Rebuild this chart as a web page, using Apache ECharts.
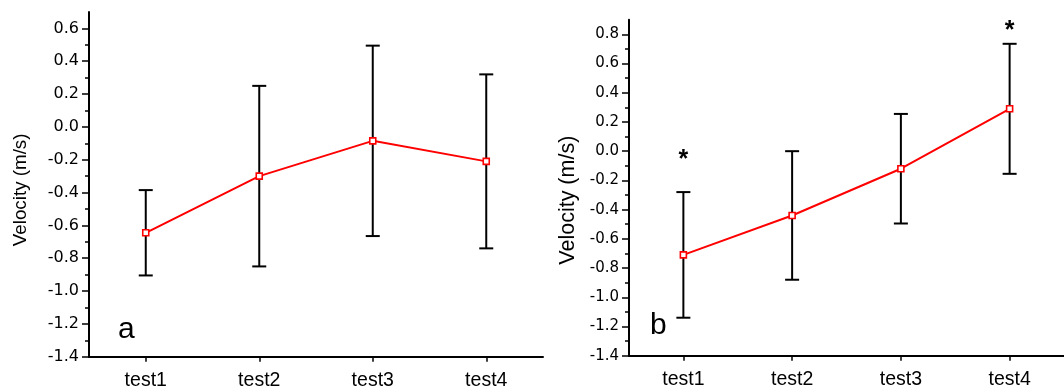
<!DOCTYPE html>
<html>
<head>
<meta charset="utf-8">
<script src="https://cdn.jsdelivr.net/npm/echarts@6/dist/echarts.min.js"></script>
<style>
  html, body { margin: 0; padding: 0; background: #fff; }
  #chart { width: 1064px; height: 392px; }
</style>
</head>
<body>
<div id="chart"></div>
<script>
// Test conditions along the x axis
const categories = ['test1', 'test2', 'test3', 'test4'];

// Panel a: mean velocity and +/- error
const meanA = [-0.645, -0.30, -0.085, -0.21];
const errA  = [0.26, 0.55, 0.58, 0.53];

// Panel b: mean velocity and +/- error
const meanB = [-0.71, -0.44, -0.12, 0.29];
const errB  = [0.43, 0.44, 0.375, 0.445];

// Significance marks for panel b and the velocity they sit at
const starB    = ['*', '', '', '*'];
const starPosB = [-0.06, null, null, 0.82];

// Tick values
const majorTicksA = [-1.4, -1.2, -1.0, -0.8, -0.6, -0.4, -0.2, 0.0, 0.2, 0.4, 0.6];
const minorTicksA = [-1.3, -1.1, -0.9, -0.7, -0.5, -0.3, -0.1, 0.1, 0.3, 0.5];
const majorTicksB = [-1.4, -1.2, -1.0, -0.8, -0.6, -0.4, -0.2, 0.0, 0.2, 0.4, 0.6, 0.8];
const minorTicksB = [-1.3, -1.1, -0.9, -0.7, -0.5, -0.3, -0.1, 0.1, 0.3, 0.5, 0.7];

const BLACK = '#000';
const RED = '#ff0000';
const SANS = '"Liberation Sans", Arial, sans-serif';

function xAxisFor(gridIndex) {
  return {
    type: 'category',
    gridIndex,
    data: categories,
    boundaryGap: true,
    axisLine: { show: true, onZero: false, lineStyle: { color: BLACK, width: 2 } },
    axisTick: { show: true, alignWithLabel: true, length: 5, lineStyle: { color: BLACK, width: 1.5 } },
    axisLabel: { color: BLACK, fontSize: 19.5, fontFamily: SANS, margin: 14 },
    splitLine: { show: false }
  };
}

function yAxesFor(gridIndex, min, max, major, minor, labelSize, nameSize, nameGap, nameShift) {
  return [
    {
      type: 'value', gridIndex, min, max, position: 'left',
      name: 'Velocity (m/s)', nameLocation: 'middle', nameGap, nameRotate: 90,
      nameTextStyle: { color: BLACK, fontSize: nameSize, fontFamily: SANS, padding: [0, nameShift, 0, 0] },
      axisLine: { show: true, lineStyle: { color: BLACK, width: 2 } },
      axisTick: { show: true, inside: false, length: 7, customValues: major, lineStyle: { color: BLACK, width: 1.5 } },
      axisLabel: {
        customValues: major, margin: 10, color: BLACK, fontSize: labelSize,
        fontFamily: '"DejaVu Sans", sans-serif',
        formatter: v => Number(v).toFixed(1)
      },
      splitLine: { show: false }
    },
    {
      // minor ticks only
      type: 'value', gridIndex, min, max, position: 'left', offset: 0,
      axisLine: { show: false },
      axisTick: { show: true, inside: false, length: 4, customValues: minor, lineStyle: { color: BLACK, width: 1.5 } },
      axisLabel: { show: false },
      splitLine: { show: false }
    }
  ];
}

function errorBars(axisIndex, yIndex, means, errs) {
  return {
    type: 'custom',
    xAxisIndex: axisIndex,
    yAxisIndex: yIndex,
    z: 1,
    silent: true,
    data: means.map((m, i) => [i, m - errs[i], m + errs[i]]),
    encode: { x: 0, y: [1, 2] },
    renderItem(params, api) {
      const lo = api.coord([api.value(0), api.value(1)]);
      const hi = api.coord([api.value(0), api.value(2)]);
      const w = 7;
      const style = { stroke: BLACK, lineWidth: 2 };
      return {
        type: 'group',
        children: [
          { type: 'line', shape: { x1: hi[0], y1: hi[1], x2: lo[0], y2: lo[1] }, style },
          { type: 'line', shape: { x1: hi[0] - w, y1: hi[1], x2: hi[0] + w, y2: hi[1] }, style },
          { type: 'line', shape: { x1: lo[0] - w, y1: lo[1], x2: lo[0] + w, y2: lo[1] }, style }
        ]
      };
    }
  };
}

function meanLine(axisIndex, yIndex, means) {
  return {
    type: 'line',
    xAxisIndex: axisIndex,
    yAxisIndex: yIndex,
    z: 3,
    data: means,
    symbol: 'rect',
    symbolSize: 6,
    showAllSymbol: true,
    lineStyle: { color: RED, width: 2 },
    itemStyle: { color: '#fff', borderColor: RED, borderWidth: 1.6 },
    emphasis: { disabled: true },
    silent: true
  };
}

const stars = {
  type: 'custom',
  xAxisIndex: 1,
  yAxisIndex: 2,
  z: 4,
  silent: true,
  data: starPosB.map((v, i) => [i, v, starB[i]]).filter(d => d[1] !== null && d[2]),
  encode: { x: 0, y: 1 },
  renderItem(params, api) {
    const p = api.coord([api.value(0), api.value(1)]);
    return {
      type: 'text',
      x: p[0], y: p[1],
      style: {
        text: starB[api.value(0)],
        fill: BLACK,
        font: 'bold 25px ' + SANS,
        align: 'center', verticalAlign: 'middle',
        textAlign: 'center', textVerticalAlign: 'middle'
      }
    };
  }
};

const chart = echarts.init(document.getElementById('chart'), null, { renderer: 'canvas' });
chart.setOption({
  animation: false,
  backgroundColor: '#fff',
  textStyle: { fontFamily: SANS },
  grid: [
    { left: 89, top: 12, width: 454, height: 344.7, containLabel: false },
    { left: 629, top: 19.7, width: 442, height: 336, containLabel: false }
  ],
  xAxis: [xAxisFor(0), xAxisFor(1)],
  yAxis: [
    ...yAxesFor(0, -1.4, 0.7, majorTicksA, minorTicksA, 16, 18.8, 59, 11),
    ...yAxesFor(1, -1.4, 0.9, majorTicksB, minorTicksB, 15, 21.5, 50, 25)
  ],
  series: [
    errorBars(0, 0, meanA, errA),
    meanLine(0, 0, meanA),
    errorBars(1, 2, meanB, errB),
    meanLine(1, 2, meanB),
    stars
  ],
  graphic: [
    { type: 'text', x: 118, y: 329.6, style: { text: 'a', fill: BLACK, font: '30px ' + SANS, verticalAlign: 'middle', textVerticalAlign: 'middle' } },
    { type: 'text', x: 650, y: 325.6, style: { text: 'b', fill: BLACK, font: '30px ' + SANS, verticalAlign: 'middle', textVerticalAlign: 'middle' } }
  ]
});
</script>
</body>
</html>
